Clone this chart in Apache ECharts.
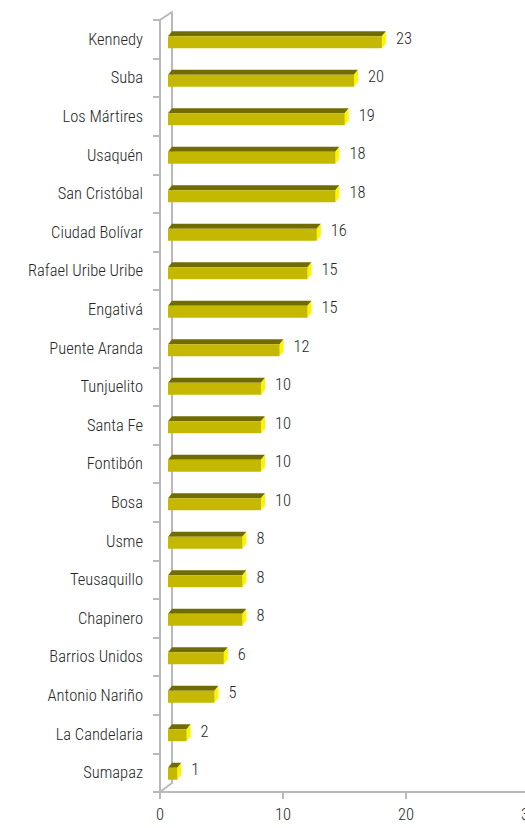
<!DOCTYPE html>
<html>
<head>
<meta charset="utf-8">
<script src="https://cdn.jsdelivr.net/npm/echarts@6/dist/echarts.min.js"></script>
<style>
html,body{margin:0;padding:0;background:#fff;}
#chart{width:525px;height:828px;}
</style>
</head>
<body>
<div id="chart"></div>
<script>
const categories = ['Kennedy','Suba','Los Mártires','Usaquén','San Cristóbal','Ciudad Bolívar','Rafael Uribe Uribe','Engativá','Puente Aranda','Tunjuelito','Santa Fe','Fontibón','Bosa','Usme','Teusaquillo','Chapinero','Barrios Unidos','Antonio Nariño','La Candelaria','Sumapaz'];
const values = [23,20,19,18,18,16,15,15,12,10,10,10,10,8,8,8,6,5,2,1];
const xTicks = {min: 0, max: 30, interval: 10};

const FONT = '"Roboto Condensed", "Liberation Sans Narrow", sans-serif';
const TEXT_COLOR = '#262626';
const AXIS_COLOR = '#b9b9b9';
const FRONT = '#c4b800';
const TOP = '#706c00';
const SIDE = '#fbf500';

const chart = echarts.init(document.getElementById('chart'), null, {renderer: 'svg'});

const option = {
  animation: false,
  backgroundColor: '#ffffff',
  grid: [
    {left: 160, top: 20, bottom: 36, width: 369, containLabel: false, outerBoundsMode: 'none'},
    {left: 168, top: 23, bottom: 35, width: 279, containLabel: false, outerBoundsMode: 'none'},
    {left: 172, top: 12, bottom: 45, width: 10, containLabel: false, outerBoundsMode: 'none'}
  ],
  xAxis: [
    {
      gridIndex: 0, type: 'value', min: xTicks.min, max: xTicks.max, interval: xTicks.interval,
      axisLine: {show: true, lineStyle: {color: AXIS_COLOR, width: 2}},
      axisTick: {show: true, length: 7, lineStyle: {color: AXIS_COLOR, width: 2}},
      splitLine: {show: false},
      axisLabel: {margin: 14, fontFamily: FONT, fontSize: 16.5, fontWeight: 300, color: TEXT_COLOR}
    },
    {gridIndex: 1, type: 'value', min: xTicks.min, max: xTicks.max, show: false},
    {gridIndex: 2, type: 'value', min: 0, max: 1, show: false}
  ],
  yAxis: [
    {
      gridIndex: 0, type: 'category', data: categories, inverse: true,
      axisLine: {show: true, lineStyle: {color: AXIS_COLOR, width: 2}},
      axisTick: {show: true, length: 7, lineStyle: {color: AXIS_COLOR, width: 2}},
      axisLabel: {margin: 17, fontFamily: FONT, fontSize: 16.5, fontWeight: 300, color: TEXT_COLOR, padding: [3, 0, 0, 0]},
      splitLine: {show: false}
    },
    {gridIndex: 1, type: 'category', data: categories, inverse: true, show: false},
    {
      gridIndex: 2, type: 'value', min: 0, max: 1,
      axisLine: {show: true, lineStyle: {color: AXIS_COLOR, width: 2}},
      axisTick: {show: false}, axisLabel: {show: false}, splitLine: {show: false}
    }
  ],
  graphic: [
    {type: 'line', shape: {x1: 160, y1: 20, x2: 172, y2: 12}, style: {stroke: AXIS_COLOR, lineWidth: 2}, z: 1},
    {type: 'line', shape: {x1: 160, y1: 792, x2: 172, y2: 783}, style: {stroke: AXIS_COLOR, lineWidth: 2}, z: 1}
  ],
  series: [{
    type: 'custom',
    xAxisIndex: 1,
    yAxisIndex: 1,
    encode: {x: 0, y: 1},
    data: values.map((v, i) => [v, categories[i]]),
    renderItem: function (params, api) {
      const v = api.value(0);
      const c = api.value(1);
      const p0 = api.coord([0, c]);
      const p1 = api.coord([v, c]);
      const h = 12, dx = 4, dy = -5;
      const x0 = p0[0], x1 = p1[0], yc = p1[1];
      const yt = yc - h / 2, yb = yc + h / 2;
      return {
        type: 'group',
        children: [
          {type: 'polygon', shape: {points: [[x0, yt], [x0 + dx, yt + dy], [x1 + dx, yt + dy], [x1, yt]]}, style: {fill: TOP}},
          {type: 'polygon', shape: {points: [[x1, yt], [x1 + dx, yt + dy], [x1 + dx, yb + dy], [x1, yb]]}, style: {fill: SIDE}},
          {type: 'rect', shape: {x: x0, y: yt, width: x1 - x0, height: h}, style: {fill: FRONT}},
          {type: 'text', x: x1 + dx + 10, y: yc - 4, style: {text: String(v), fill: TEXT_COLOR, font: '300 16.5px ' + FONT, verticalAlign: 'middle', align: 'left'}}
        ]
      };
    }
  }]
};
chart.setOption(option);
</script>
</body>
</html>
